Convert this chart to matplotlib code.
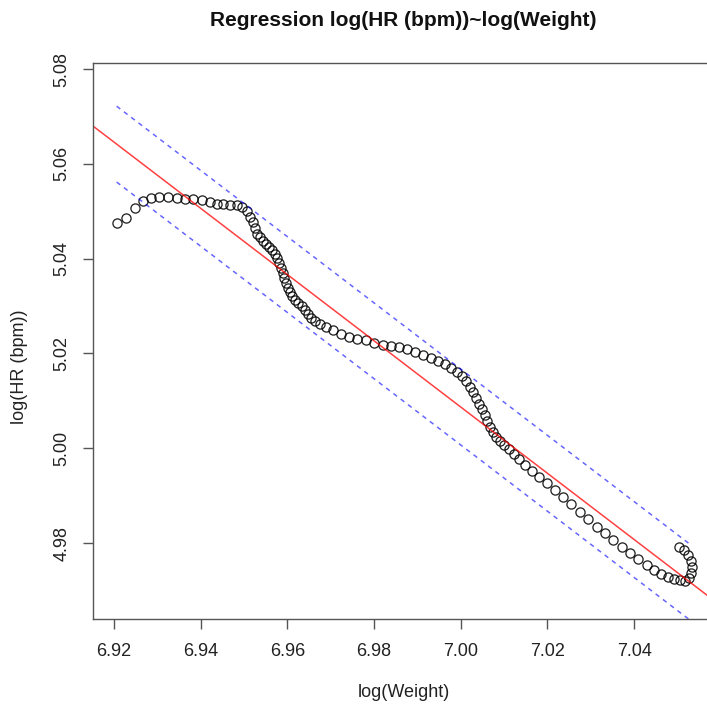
import numpy as np
import matplotlib
matplotlib.use("Agg")
import matplotlib.pyplot as plt

plt.rcParams['font.family'] = ['Liberation Sans', 'DejaVu Sans']

log_weight = [6.92062, 6.92277, 6.92478, 6.92662, 6.92847, 6.93045, 6.93253, 6.93446, 6.93638, 6.93829,
              6.94023, 6.94215, 6.94369, 6.94521, 6.94676, 6.94830, 6.94946, 6.95061, 6.95137, 6.95200,
              6.95253, 6.95310, 6.95368, 6.95437, 6.95506, 6.95576, 6.95645, 6.95714, 6.95760, 6.95806,
              6.95852, 6.95898, 6.95933, 6.95968, 6.96014, 6.96060, 6.96106, 6.96175, 6.96245, 6.96337,
              6.96406, 6.96475, 6.96544, 6.96637, 6.96752, 6.96890, 6.97052, 6.97236, 6.97421, 6.97606,
              6.97813, 6.97998, 6.98205, 6.98390, 6.98574, 6.98759, 6.98943, 6.99128, 6.99313, 6.99474,
              6.99636, 6.99774, 6.99912, 7.00028, 7.00120, 7.00212, 7.00281, 7.00351, 7.00420, 7.00489,
              7.00558, 7.00604, 7.00674, 7.00743, 7.00812, 7.00904, 7.00997, 7.01112, 7.01227, 7.01343,
              7.01481, 7.01642, 7.01804, 7.01988, 7.02173, 7.02358, 7.02542, 7.02750, 7.02934, 7.03142,
              7.03326, 7.03511, 7.03719, 7.03903, 7.04088, 7.04295, 7.04457, 7.04618, 7.04780, 7.04918,
              7.05056, 7.05172, 7.05264, 7.05322, 7.05333, 7.05310, 7.05241, 7.05149, 7.05033]
log_hr = [5.04757, 5.04863, 5.05061, 5.05222, 5.05278, 5.05306, 5.05306, 5.05285, 5.05268, 5.05257,
          5.05247, 5.05205, 5.05162, 5.05152, 5.05141, 5.05131, 5.05089, 5.05004, 5.04884, 5.04772,
          5.04646, 5.04519, 5.04456, 5.04371, 5.04308, 5.04245, 5.04181, 5.04097, 5.04013, 5.03907,
          5.03802, 5.03696, 5.03591, 5.03485, 5.03380, 5.03295, 5.03211, 5.03127, 5.03063, 5.03000,
          5.02916, 5.02831, 5.02747, 5.02684, 5.02631, 5.02568, 5.02494, 5.02420, 5.02357, 5.02314,
          5.02283, 5.02230, 5.02177, 5.02156, 5.02135, 5.02093, 5.02030, 5.01966, 5.01903, 5.01840,
          5.01776, 5.01703, 5.01608, 5.01523, 5.01418, 5.01297, 5.01186, 5.01059, 5.00932, 5.00827,
          5.00700, 5.00574, 5.00447, 5.00342, 5.00236, 5.00152, 5.00067, 4.99983, 4.99878, 4.99772,
          4.99646, 4.99519, 4.99392, 4.99266, 4.99118, 4.98970, 4.98823, 4.98660, 4.98506, 4.98338,
          4.98211, 4.98063, 4.97916, 4.97789, 4.97662, 4.97536, 4.97430, 4.97357, 4.97293, 4.97251,
          4.97219, 4.97209, 4.97262, 4.97367, 4.97494, 4.97620, 4.97747, 4.97852, 4.97916]

# regression line and prediction band
fit_intercept = 9.90029
fit_slope = -0.6988
band_halfwidth = 0.0080

x_ticks = [6.92, 6.94, 6.96, 6.98, 7.00, 7.02, 7.04]
y_ticks = [4.98, 5.00, 5.02, 5.04, 5.06, 5.08]

fig = plt.figure(figsize=(7.07, 7.08), dpi=100)
ax = fig.add_axes([0.1315, 0.1257, 0.8755, 0.7853])

ax.plot(log_weight, log_hr, 'o', mfc='none', mec='black', ms=6.6, mew=0.95, alpha=0.85)

# fitted line over the whole plot
ax.axline((0, fit_intercept), slope=fit_slope, color='red', lw=1.1, alpha=0.75)

# prediction band over the data range
xs = np.sort(np.array(log_weight))
pred = fit_intercept + fit_slope * xs
ax.plot(xs, pred + band_halfwidth, color='blue', lw=1.1, alpha=0.6, dashes=(3, 3))
ax.plot(xs, pred - band_halfwidth, color='blue', lw=1.1, alpha=0.6, dashes=(3, 3))

ax.set_xlim(6.91516, 7.05795)
ax.set_ylim(4.96397, 5.08127)
ax.set_xticks(x_ticks)
ax.set_xticklabels(["%.2f" % v for v in x_ticks])
ax.set_yticks(y_ticks)
ax.set_yticklabels(["%.2f" % v for v in y_ticks], rotation=90, va='center')

for s in ax.spines.values():
    s.set_color('#555555')
    s.set_linewidth(1.0)
ax.tick_params(direction='out', length=7, width=1.0, color='#555555', labelsize=13, labelcolor='#222222')
ax.tick_params(axis='x', pad=10)
ax.tick_params(axis='y', pad=9)

fig.text(0.571, 0.971, "Regression log(HR (bpm))~log(Weight)", ha='center', va='center',
         fontsize=15, fontweight='bold', color='#111111')
fig.text(0.571, 0.022, "log(Weight)", ha='center', va='center', fontsize=13, color='#222222')
fig.text(0.027, 0.482, "log(HR (bpm))", ha='center', va='center', rotation=90, fontsize=13, color='#222222')

plt.savefig("out.png", dpi=100)
